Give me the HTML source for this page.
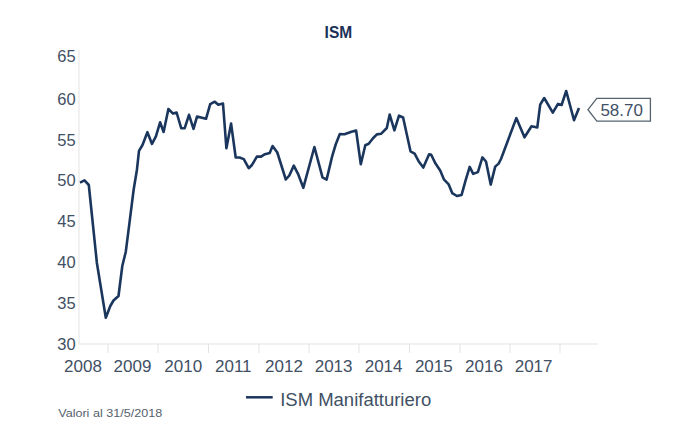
<!DOCTYPE html>
<html><head><meta charset="utf-8"><style>
html,body{margin:0;padding:0;background:#fff;}
body{width:679px;height:429px;position:relative;overflow:hidden;font-family:"Liberation Sans",sans-serif;}
svg{position:absolute;left:0;top:0;}
</style></head><body>
<svg width="679" height="429" viewBox="0 0 679 429">
<g fill="#415064" font-family="Liberation Sans, sans-serif">
<text x="324.6" y="37.8" font-weight="bold" font-size="17" fill="#1c3157" textLength="27.6" lengthAdjust="spacingAndGlyphs">ISM</text>
<text x="75.7" y="61.8" text-anchor="end" font-size="16.5">65</text>
<text x="75.7" y="104.7" text-anchor="end" font-size="16.5">60</text>
<text x="75.7" y="145.5" text-anchor="end" font-size="16.5">55</text>
<text x="75.7" y="186.3" text-anchor="end" font-size="16.5">50</text>
<text x="75.7" y="227.1" text-anchor="end" font-size="16.5">45</text>
<text x="75.7" y="267.9" text-anchor="end" font-size="16.5">40</text>
<text x="75.7" y="308.7" text-anchor="end" font-size="16.5">35</text>
<text x="75.7" y="349.5" text-anchor="end" font-size="16.5">30</text>
<text x="83.0" y="371.7" text-anchor="middle" font-size="17">2008</text>
<text x="132.5" y="371.7" text-anchor="middle" font-size="17">2009</text>
<text x="183.2" y="371.7" text-anchor="middle" font-size="17">2010</text>
<text x="233.3" y="371.7" text-anchor="middle" font-size="17">2011</text>
<text x="284.0" y="371.7" text-anchor="middle" font-size="17">2012</text>
<text x="333.6" y="371.7" text-anchor="middle" font-size="17">2013</text>
<text x="383.6" y="371.7" text-anchor="middle" font-size="17">2014</text>
<text x="433.8" y="371.7" text-anchor="middle" font-size="17">2015</text>
<text x="484.0" y="371.7" text-anchor="middle" font-size="17">2016</text>
<text x="533.6" y="371.7" text-anchor="middle" font-size="17">2017</text>
<text x="280.2" y="406.2" font-size="17.5" textLength="151" lengthAdjust="spacingAndGlyphs">ISM Manifatturiero</text>
<text x="58.2" y="416.8" font-size="11" fill="#56616d" textLength="104" lengthAdjust="spacingAndGlyphs">Valori al 31/5/2018</text>
<text x="600.4" y="115.8" font-size="17">58.70</text>
</g>
<g stroke="#e3e3e3" stroke-width="1" fill="none">
<line x1="79" y1="50" x2="79" y2="344"/>
<line x1="79" y1="344" x2="598" y2="344"/>
<line x1="108" y1="344" x2="108" y2="353"/><line x1="158" y1="344" x2="158" y2="353"/><line x1="208.5" y1="344" x2="208.5" y2="353"/><line x1="259" y1="344" x2="259" y2="353"/><line x1="309" y1="344" x2="309" y2="353"/><line x1="359" y1="344" x2="359" y2="353"/><line x1="409.5" y1="344" x2="409.5" y2="353"/><line x1="460" y1="344" x2="460" y2="353"/><line x1="510" y1="344" x2="510" y2="353"/><line x1="560" y1="344" x2="560" y2="353"/>
</g>
<polygon points="588,109.7 596.8,98.4 650.4,98.4 650.4,121.1 596.8,121.1" fill="none" stroke="#56636f" stroke-width="1.3"/>
<line x1="246" y1="397.3" x2="272.7" y2="397.3" stroke="#1b355c" stroke-width="2.5"/>
<polyline points="80.0,182.6 84.5,180.4 88.8,185.0 96.9,263.0 101.2,289.5 105.8,317.7 110.3,306.0 113.5,300.5 118.5,296.0 122.3,266.0 125.8,251.7 129.5,222.6 133.6,190.0 136.9,170.0 139.0,150.9 142.5,145.0 147.4,132.2 152.0,143.9 155.9,136.3 160.1,122.3 163.6,132.0 168.4,109.0 173.0,113.6 176.6,112.5 181.2,128.2 184.7,128.2 189.0,114.8 193.5,128.8 197.0,116.6 206.0,118.8 210.2,104.2 214.8,101.7 218.3,104.8 223.0,103.6 226.4,148.2 231.1,123.6 235.7,157.5 239.5,157.5 243.8,159.1 248.7,168.2 251.7,165.3 256.9,156.6 261.0,156.6 265.0,154.2 269.7,153.0 272.6,146.0 277.3,152.5 285.8,179.5 289.3,175.5 293.8,165.6 298.0,173.8 303.3,187.8 314.4,147.0 322.5,177.3 326.6,179.6 332.2,156.1 335.7,144.5 339.8,134.0 344.5,134.2 351.5,131.7 356.1,130.5 360.8,164.3 365.3,145.3 368.7,143.7 372.8,138.5 376.9,134.4 381.0,133.8 386.8,128.0 389.7,114.6 394.4,130.3 399.0,115.7 403.1,117.5 410.5,151.3 414.6,153.6 418.6,161.2 423.3,167.6 429.1,154.2 431.2,154.8 435.5,163.6 440.2,170.5 444.1,179.7 448.7,184.4 452.2,193.1 456.9,196.0 461.6,194.9 465.6,180.3 469.7,166.9 473.2,173.9 477.9,172.1 482.4,157.4 486.0,161.5 490.7,184.6 495.2,166.6 498.6,163.6 501.0,159.0 516.3,118.1 524.5,137.3 531.5,126.2 537.3,127.4 540.2,104.7 544.2,98.0 552.8,112.6 558.0,103.9 561.6,105.0 566.2,91.0 574.0,120.2 579.0,108.0" fill="none" stroke="#1b365d" stroke-width="2.6" stroke-linejoin="round" stroke-linecap="butt"/>
</svg>
</body></html>
